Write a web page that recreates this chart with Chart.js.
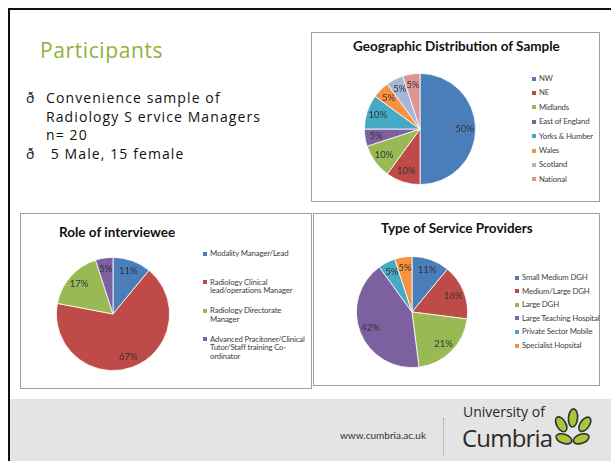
<!DOCTYPE html>
<html>
<head>
<meta charset="utf-8">
<script src="https://cdn.jsdelivr.net/npm/chart.js@4/dist/chart.umd.min.js"></script>
<style>
  body { margin: 0; width: 611px; height: 461px; overflow: hidden; background: #fff; position: relative; font-family: "Open Sans", sans-serif; }
  .frameTop { position: absolute; left: 8px; top: 8px; width: 603px; height: 2px; background: #111; }
  .frameLeft { position: absolute; left: 8px; top: 8px; width: 2px; height: 453px; background: #111; }
  .footer { position: absolute; left: 10px; top: 399px; width: 601px; height: 62px; background: #e4e4e4; }
  .heading { position: absolute; left: 40px; top: 36px; font-size: 21px; color: #8db33a; letter-spacing: 0.6px; }
  .bullets { position: absolute; left: 26px; top: 89px; font-size: 14px; color: #111; letter-spacing: 1.1px; line-height: 18.5px; }
  .bullets div { position: relative; padding-left: 20px; }
  .bullets span.b { position: absolute; left: 0; }
  .box { position: absolute; border: 1px solid #a0a0a0; background: #fff; }
  .title { position: absolute; font-family: "Lato", sans-serif; font-weight: bold; color: #111; white-space: nowrap; }
  canvas { position: absolute; }
  .legend { position: absolute; font-family: "Lato", sans-serif; font-size: 7.8px; letter-spacing: -0.15px; color: #404040; }
  .legend .item { position: absolute; left: 0; white-space: nowrap; line-height: 9px; }
  .legend .sw { position: absolute; left: 0; top: 2.5px; width: 4px; height: 4px; }
  .legend .tx { position: absolute; left: 7px; top: 0; }
  .url { position: absolute; left: 340px; top: 429px; font-family: "Lato", sans-serif; font-size: 10px; color: #333; }
  .sep { position: absolute; left: 443px; top: 418px; height: 38px; border-left: 1px dotted #999; }
  .uni1 { position: absolute; left: 463px; top: 403px; font-family: "Open Sans", sans-serif; color: #2a2a2a; font-size: 14px; line-height: 17px; white-space: nowrap; }
  .uni2 { position: absolute; left: 462px; top: 425px; font-family: "Open Sans", sans-serif; color: #2a2a2a; font-size: 24px; line-height: 26px; letter-spacing: -0.8px; white-space: nowrap; }
</style>
</head>
<body>
<div class="frameTop"></div>
<div class="frameLeft"></div>

<div class="heading">Participants</div>
<div class="bullets">
  <div><span class="b">ð</span>Convenience sample of<br>Radiology S ervice Managers<br>n= 20</div>
  <div><span class="b">ð</span>&nbsp;5 Male, 15 female</div>
</div>

<div class="box" style="left:311px; top:32px; width:287px; height:168px;"></div>
<div class="title" style="left:353px; top:38px; font-size:13.5px;">Geographic Distribution of Sample</div>
<canvas id="geoChart" width="116" height="116" style="left:362px; top:71px;"></canvas>
<div class="legend" id="geoLegend" style="left:532px; top:74px;"></div>

<div class="box" style="left:20px; top:213px; width:290px; height:174px;"></div>
<div class="title" style="left:59px; top:224px; font-size:13.5px;">Role of interviewee</div>
<canvas id="roleChart" width="118" height="118" style="left:54px; top:255px;"></canvas>
<div class="legend" id="roleLegend" style="left:203px; top:249px;"></div>

<div class="box" style="left:313px; top:213px; width:285px; height:171px;"></div>
<div class="title" style="left:381px; top:220px; font-size:13.5px;">Type of Service Providers</div>
<canvas id="serviceChart" width="116" height="116" style="left:354px; top:254px;"></canvas>
<div class="legend" id="serviceLegend" style="left:515px; top:273px;"></div>

<div class="footer"></div>
<div class="url">www.cumbria.ac.uk</div>
<div class="sep"></div>
<div class="uni1">University of</div>
<div class="uni2">Cumbria</div>
<svg style="position:absolute; left:553px; top:406px;" width="40" height="42" viewBox="0 0 44 46">
  <g stroke="#333" stroke-width="1.8" fill="#a8c83a">
    <ellipse cx="9" cy="20" rx="5" ry="9" transform="rotate(-30 9 20)"/>
    <ellipse cx="22" cy="13" rx="5" ry="10" transform="rotate(5 22 13)"/>
    <ellipse cx="35" cy="20" rx="5" ry="9" transform="rotate(35 35 20)"/>
    <ellipse cx="12" cy="36" rx="9" ry="5" transform="rotate(20 12 36)"/>
    <ellipse cx="31" cy="36" rx="9" ry="5" transform="rotate(-20 31 36)"/>
  </g>
</svg>

<script>
// Geographic distribution
const geoLabels = ['NW', 'NE', 'Midlands', 'East of England', 'Yorks & Humber', 'Wales', 'Scotland', 'National'];
const geoValues = [50, 10, 10, 5, 10, 5, 5, 5];
const geoColors = ['#4a7ebb', '#be4b48', '#98b954', '#7d60a0', '#46aac5', '#f69240', '#a5b6da', '#dc9694'];

// Role of interviewee
const roleLabels = [
    ['Modality Manager/Lead'],
    ['Radiology Clinical', 'lead/operations Manager'],
    ['Radiology Directorate', 'Manager'],
    ['Advanced Pracitoner/Clinical', 'Tutor/Staff training Co-', 'ordinator']
];
const roleValues = [11, 67, 17, 5];
const roleColors = ['#4a7ebb', '#be4b48', '#98b954', '#7d60a0'];

// Type of service providers
const serviceLabels = ['Small Medium DGH', 'Medium/Large DGH', 'Large DGH', 'Large Teaching Hospital', 'Private Sector Mobile', 'Specialist Hopsital'];
const serviceValues = [11, 16, 21, 42, 5, 5];
const serviceColors = ['#4a7ebb', '#be4b48', '#98b954', '#7d60a0', '#46aac5', '#f69240'];

const pctLabels = {   // To write the % inside each slice
    id: 'pctLabels',
    afterDatasetsDraw(chart) {
        const ctx = chart.ctx;
        const meta = chart.getDatasetMeta(0);
        ctx.save();
        ctx.font = '9.5px Lato';
        ctx.fillStyle = '#333';
        ctx.textAlign = 'center';
        ctx.textBaseline = 'middle';
        meta.data.forEach((arc, i) => {
            const p = arc.getProps(['x', 'y', 'startAngle', 'endAngle', 'outerRadius'], true);
            const a = (p.startAngle + p.endAngle) / 2;
            const r = p.outerRadius * 0.8;
            ctx.fillText(chart.data.datasets[0].data[i] + '%', p.x + Math.cos(a) * r, p.y + Math.sin(a) * r);
        });
        ctx.restore();
    }
};

function makePie(id, labels, values, colors) {
    return new Chart(document.getElementById(id), {
        type: 'pie',
        data: {
            labels: labels,
            datasets: [{
                data: values,
                backgroundColor: colors,
                borderColor: '#fff',
                borderWidth: 0.8
            }]
        },
        options: {
            responsive: false,
            animation: false,
            layout: { padding: 2 },
            plugins: { legend: { display: false }, tooltip: { enabled: false } }
        },
        plugins: [pctLabels]
    });
}

function makeLegend(id, labels, colors, step, lineH) {   // To build the legend beside a pie
    const box = document.getElementById(id);
    let y = 0;
    labels.forEach((lab, i) => {
        const lines = Array.isArray(lab) ? lab : [lab];
        const item = document.createElement('div');
        item.className = 'item';
        item.style.top = y + 'px';
        item.innerHTML = '<span class="sw" style="background:' + colors[i] + '"></span>' +
            '<span class="tx" style="line-height:' + lineH + 'px">' + lines.join('<br>') + '</span>';
        box.appendChild(item);
        y += step;
    });
}

makePie('geoChart', geoLabels, geoValues, geoColors);
makePie('roleChart', roleLabels, roleValues, roleColors);
makePie('serviceChart', serviceLabels, serviceValues, serviceColors);

makeLegend('geoLegend', geoLabels, geoColors, 14.4, 9);
makeLegend('roleLegend', roleLabels, roleColors, 28.5, 8.8);
makeLegend('serviceLegend', serviceLabels, serviceColors, 13.6, 9);
</script>
</body>
</html>
